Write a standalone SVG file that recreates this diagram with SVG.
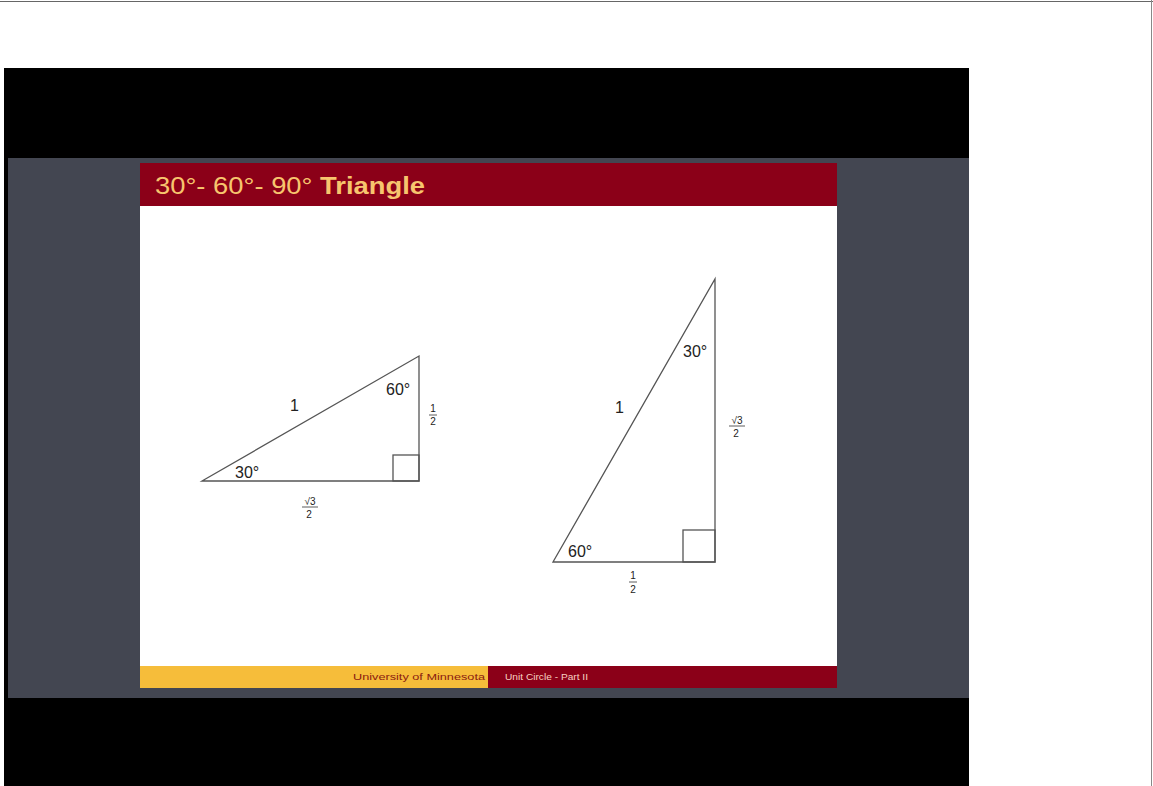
<svg xmlns="http://www.w3.org/2000/svg" width="1153" height="786" viewBox="0 0 1153 786">
<style>
.lbl{font-family:"Liberation Sans",Arial,sans-serif;font-size:16px;fill:#222}
.fr{font-family:"Liberation Sans",Arial,sans-serif;font-size:10px;fill:#222;text-anchor:middle}
.tri{fill:none;stroke:#555;stroke-width:1.3}
.fl{stroke:#333;stroke-width:0.8}
</style>
<rect width="1153" height="786" fill="#fff"/>
<line x1="0" y1="1.5" x2="1153" y2="1.5" stroke="#666" stroke-width="1"/>
<line x1="1151.5" y1="0" x2="1151.5" y2="786" stroke="#888" stroke-width="1"/>
<rect x="4" y="68" width="965" height="718" fill="#000"/>
<rect x="8" y="158" width="961" height="540" fill="#434651"/>
<g id="slide">
<rect x="140" y="163" width="697" height="525" fill="#fff"/>
<rect x="140" y="163" width="697" height="43" fill="#8b0018"/>
<text x="155" y="194" font-family="Liberation Sans,Arial,sans-serif" font-size="24" fill="#f7c56e" textLength="270" lengthAdjust="spacingAndGlyphs">30°- 60°- 90° <tspan font-weight="bold">Triangle</tspan></text>
<rect x="140" y="666" width="348" height="22" fill="#f6bd3a"/>
<rect x="488" y="666" width="349" height="22" fill="#8b0018"/>
<text x="353" y="680" font-family="Liberation Sans,Arial,sans-serif" font-size="9" fill="#8b1a10" textLength="132" lengthAdjust="spacingAndGlyphs">University of Minnesota</text>
<text x="505" y="680" font-family="Liberation Sans,Arial,sans-serif" font-size="9" fill="#f7d0c0" textLength="83" lengthAdjust="spacingAndGlyphs">Unit Circle - Part II</text>
</g>
<g id="triangle-left">
<polygon class="tri" points="202,481 419,356 419,481"/>
<rect class="tri" x="393" y="455" width="26" height="26"/>
<text class="lbl" x="290" y="411">1</text>
<text class="lbl" x="386" y="395">60°</text>
<text class="lbl" x="235" y="478">30°</text>
<text class="fr" x="433" y="412">1</text>
<line class="fl" x1="429" y1="415" x2="437" y2="415"/>
<text class="fr" x="433" y="425">2</text>
<text class="fr" x="310" y="505">√3</text>
<line class="fl" x1="302" y1="507" x2="318" y2="507"/>
<text class="fr" x="309" y="518">2</text>
</g>
<g id="triangle-right">
<polygon class="tri" points="553,562 715,279 715,562"/>
<rect class="tri" x="683" y="530" width="32" height="32"/>
<text class="lbl" x="683" y="357">30°</text>
<text class="lbl" x="615" y="413">1</text>
<text class="lbl" x="568" y="557">60°</text>
<text class="fr" x="737" y="424">√3</text>
<line class="fl" x1="729" y1="426" x2="745" y2="426"/>
<text class="fr" x="736" y="437">2</text>
<text class="fr" x="633" y="579">1</text>
<line class="fl" x1="629" y1="582" x2="637" y2="582"/>
<text class="fr" x="633" y="593">2</text>
</g>
</svg>
